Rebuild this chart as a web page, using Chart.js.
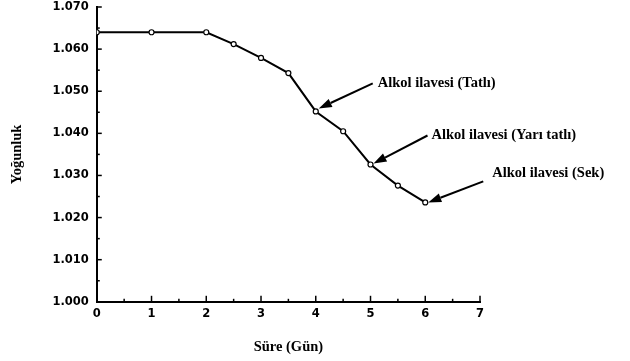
<!DOCTYPE html>
<html>
<head>
<meta charset="utf-8">
<script src="https://cdn.jsdelivr.net/npm/chart.js@4"></script>
<style>
  html, body { margin: 0; padding: 0; background: #fff; }
  #wrap { width: 630px; height: 361px; }
</style>
</head>
<body>
<div id="wrap"><canvas id="chart" width="630" height="361"></canvas></div>
<script>
// Density during fermentation
const days    = [0, 1, 2, 2.5, 3, 3.5, 4, 4.5, 5, 5.5, 6];
const density = [1.064, 1.064, 1.064, 1.0612, 1.0579, 1.0543, 1.0452, 1.0405, 1.0326, 1.0276, 1.0236];

// Arrow notes pointing at the curve
const noteLabels = ["Alkol ilavesi (Tatlı)", "Alkol ilavesi (Yarı tatlı)", "Alkol ilavesi (Sek)"];
const noteDays   = [4, 5, 6];

const X_TITLE = "Süre (Gün)";
const Y_TITLE = "Yoğunluk";

const SERIF = "'Liberation Serif', 'DejaVu Serif', serif";

// tick marks drawn inward from the axes, majors + minors
const inwardTicks = {
  id: "inwardTicks",
  afterDatasetsDraw(chart) {
    const { ctx, scales: { x, y } } = chart;
    ctx.save();
    ctx.strokeStyle = "#000";
    ctx.lineWidth = 1.5;
    for (let v = 0; v <= 7.001; v += 0.5) {
      const px = x.getPixelForValue(v);
      const len = Number.isInteger(v) ? 6 : 3;
      ctx.beginPath();
      ctx.moveTo(px, y.bottom);
      ctx.lineTo(px, y.bottom - len);
      ctx.stroke();
    }
    for (let i = 0; i <= 14; i++) {
      const py = y.getPixelForValue(1 + i * 0.005);
      const len = i % 2 === 0 ? 5 : 3;
      ctx.beginPath();
      ctx.moveTo(x.left, py);
      ctx.lineTo(x.left + len, py);
      ctx.stroke();
    }
    ctx.restore();
  }
};

// arrows + text labels
const arrowNotes = {
  id: "arrowNotes",
  afterDatasetsDraw(chart) {
    const { ctx, scales: { x, y } } = chart;
    // tip offset from the point, tail offset from the tip, text offset from the tail
    const tipOff = [[3, -3], [3, -1], [3, 0]];
    const vec    = [[54, -25], [54, -28], [55, -21]];
    const txt    = [[5, 0], [4, 0], [9, -8]];
    ctx.save();
    ctx.strokeStyle = "#000";
    ctx.fillStyle = "#000";
    ctx.lineWidth = 2;
    ctx.font = "bold 14.5px " + SERIF;
    ctx.textBaseline = "middle";
    noteLabels.forEach((label, i) => {
      const idx = days.indexOf(noteDays[i]);
      const tx = x.getPixelForValue(days[idx]) + tipOff[i][0];
      const ty = y.getPixelForValue(density[idx]) + tipOff[i][1];
      const sx = tx + vec[i][0], sy = ty + vec[i][1];
      const ang = Math.atan2(ty - sy, tx - sx);
      const headLen = 13, headW = 4.5;
      const bx = tx - Math.cos(ang) * headLen, by = ty - Math.sin(ang) * headLen;
      ctx.beginPath();
      ctx.moveTo(sx, sy);
      ctx.lineTo(bx, by);
      ctx.stroke();
      ctx.beginPath();
      ctx.moveTo(tx, ty);
      ctx.lineTo(bx + Math.sin(ang) * headW, by - Math.cos(ang) * headW);
      ctx.lineTo(bx - Math.sin(ang) * headW, by + Math.cos(ang) * headW);
      ctx.closePath();
      ctx.fill();
      ctx.fillText(label, sx + txt[i][0], sy + txt[i][1]);
    });
    ctx.restore();
  }
};

const tickFont  = { family: "'DejaVu Sans', Arial, sans-serif", size: 11.5, weight: "bold" };
const titleFont = { family: SERIF, size: 14.5, weight: "bold" };

new Chart(document.getElementById("chart"), {
  type: "line",
  data: {
    datasets: [{
      data: days.map((d, i) => ({ x: d, y: density[i] })),
      borderColor: "#000",
      borderWidth: 2,
      pointRadius: 2.5,
      pointBackgroundColor: "#fff",
      pointBorderColor: "#000",
      pointBorderWidth: 1.2,
      tension: 0
    }]
  },
  options: {
    responsive: false,
    animation: false,
    layout: { padding: { left: 6, right: 150, top: 0, bottom: 2 } },
    plugins: { legend: { display: false }, tooltip: { enabled: false } },
    scales: {
      x: {
        type: "linear",
        min: 0, max: 7,
        grid: { display: false, drawTicks: false },
        border: { color: "#000", width: 2 },
        ticks: { stepSize: 1, color: "#000", font: tickFont, padding: 5, maxRotation: 0 },
        title: { display: true, text: X_TITLE, color: "#000", font: titleFont, padding: { top: 13, bottom: 3 } }
      },
      y: {
        min: 1.0, max: 1.07,
        grid: { display: false, drawTicks: false },
        border: { color: "#000", width: 2 },
        ticks: { stepSize: 0.01, color: "#000", font: tickFont, padding: 8,
                 callback: v => v.toFixed(3) },
        title: { display: true, text: Y_TITLE, color: "#000", font: titleFont, padding: { top: 3, bottom: 18 } },
        // keep only half a label of room above the top tick
        afterFit: s => { s.paddingTop = 7; s.paddingBottom = 7; }
      }
    }
  },
  plugins: [inwardTicks, arrowNotes]
});
</script>
</body>
</html>
